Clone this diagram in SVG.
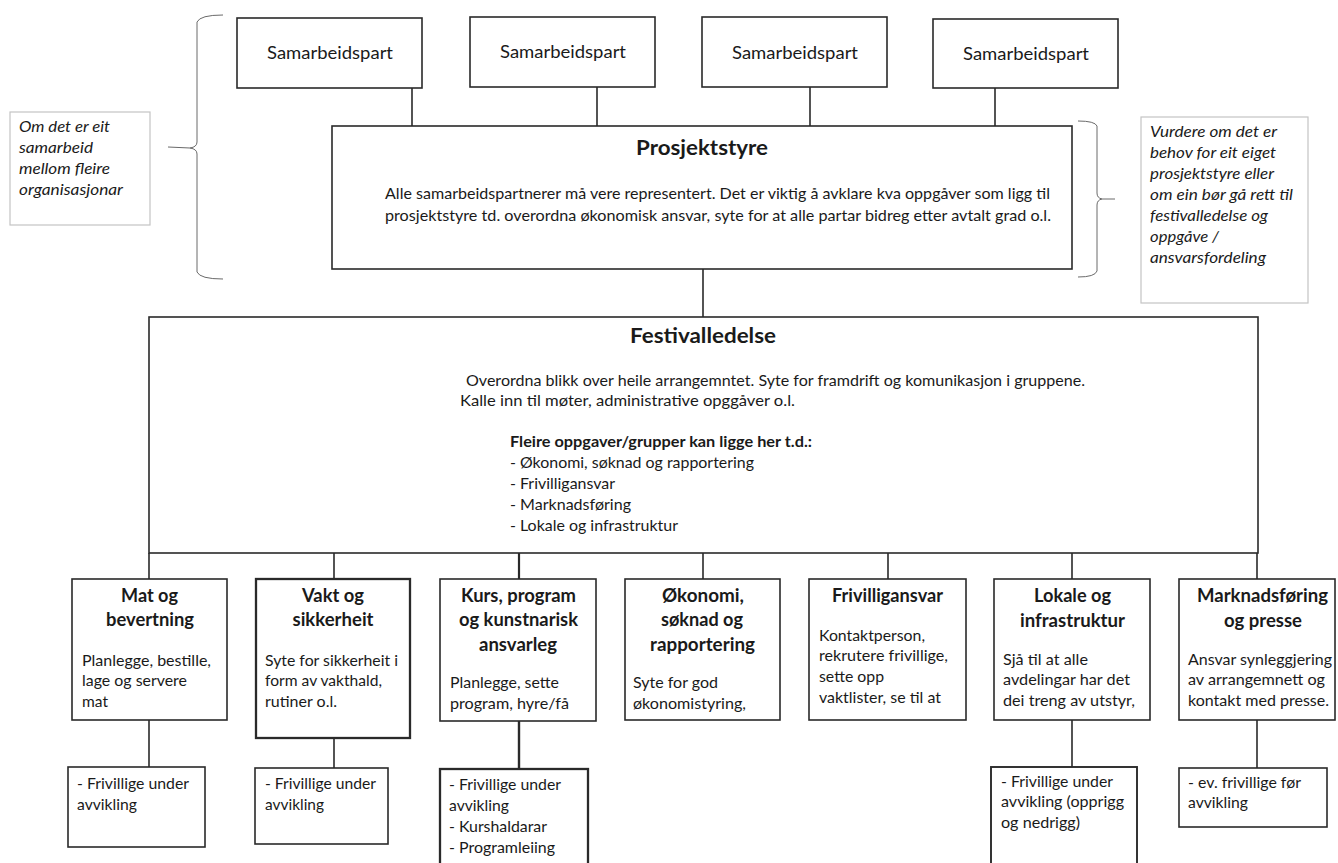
<svg xmlns="http://www.w3.org/2000/svg" width="1338" height="863" viewBox="0 0 1338 863">
<style>
  text { font-family: Lato, "Liberation Sans", sans-serif; fill: #1a1a1a; }
  .box { fill: #fff; stroke: #2a2a2a; stroke-width: 1.6; }
  .heavy { stroke-width: 2.3; }
  .note { fill: #fff; stroke: #c4c4c4; stroke-width: 1.2; }
  .line { stroke: #2a2a2a; stroke-width: 1.6; fill: none; }
  .brace { stroke: #6a6a6a; stroke-width: 1; fill: none; }
  .sp { font-size: 18px; text-anchor: middle; }
  .h1 { font-size: 21px; font-weight: bold; text-anchor: middle; }
  .body { font-size: 16px; }
  .bold { font-weight: bold; }
  .t { font-size: 18px; font-weight: bold; text-anchor: middle; }
  .it { font-size: 16px; font-style: italic; }
</style>

<g id="connectors">
  <line class="line" x1="412" y1="88" x2="412" y2="126"/>
  <line class="line" x1="597" y1="87" x2="597" y2="126"/>
  <line class="line" x1="810" y1="87" x2="810" y2="126"/>
  <line class="line" x1="995" y1="88" x2="995" y2="126"/>
  <line class="line" x1="703" y1="269" x2="703" y2="317"/>
  <line class="line" x1="149" y1="553" x2="149" y2="579"/>
  <line class="line" x1="334" y1="553" x2="334" y2="579"/>
  <line class="line" x1="519" y1="553" x2="519" y2="579" style="stroke-width:2.2"/>
  <line class="line" x1="703" y1="553" x2="703" y2="579"/>
  <line class="line" x1="888" y1="553" x2="888" y2="579"/>
  <line class="line" x1="1072" y1="553" x2="1072" y2="579"/>
  <line class="line" x1="1257" y1="553" x2="1257" y2="579"/>
  <line class="line" x1="149" y1="720" x2="149" y2="767"/>
  <line class="line" x1="334" y1="738" x2="334" y2="768"/>
  <line class="line" x1="519" y1="721" x2="519" y2="769" style="stroke-width:2.4"/>
  <line class="line" x1="1072" y1="720" x2="1072" y2="767"/>
  <line class="line" x1="1257" y1="720" x2="1257" y2="768"/>
  <path class="brace" d="M223,15 Q200,15 197,22 L197,142 Q197,147 190,148 L168,147 M190,148 Q197,149 197,154 L197,272 Q200,279 223,279"/>
  <path class="brace" d="M1078,121 Q1095,121 1097,126 L1097,193 Q1097,198 1102,199 L1115,199 M1102,199 Q1097,200 1097,205 L1097,271 Q1095,277 1078,277"/>
</g>

<g id="note-left">
  <rect class="note" x="10" y="112" width="140" height="113"/>
  <text class="it" x="19" y="132" textLength="91" lengthAdjust="spacingAndGlyphs">Om det er eit</text>
  <text class="it" x="19" y="153" textLength="74" lengthAdjust="spacingAndGlyphs">samarbeid</text>
  <text class="it" x="19" y="174" textLength="91" lengthAdjust="spacingAndGlyphs">mellom fleire</text>
  <text class="it" x="19" y="195" textLength="104" lengthAdjust="spacingAndGlyphs">organisasjonar</text>
</g>

<g id="note-right">
  <rect class="note" x="1141" y="117" width="167" height="186"/>
  <text class="it" x="1150" y="137" textLength="127" lengthAdjust="spacingAndGlyphs">Vurdere om det er</text>
  <text class="it" x="1150" y="158" textLength="126" lengthAdjust="spacingAndGlyphs">behov for eit eiget</text>
  <text class="it" x="1150" y="179" textLength="124" lengthAdjust="spacingAndGlyphs">prosjektstyre eller</text>
  <text class="it" x="1150" y="200" textLength="143" lengthAdjust="spacingAndGlyphs">om ein bør gå rett til</text>
  <text class="it" x="1150" y="221" textLength="118" lengthAdjust="spacingAndGlyphs">festivalledelse og</text>
  <text class="it" x="1150" y="242" textLength="69" lengthAdjust="spacingAndGlyphs">oppgåve /</text>
  <text class="it" x="1150" y="263" textLength="116" lengthAdjust="spacingAndGlyphs">ansvarsfordeling</text>
</g>

<g id="samarbeidspart-1">
  <rect class="box" x="237" y="18" width="185" height="70"/>
  <text class="sp" x="330" y="59" textLength="126" lengthAdjust="spacingAndGlyphs">Samarbeidspart</text>
</g>
<g id="samarbeidspart-2">
  <rect class="box" x="470" y="17" width="185" height="70"/>
  <text class="sp" x="563" y="58" textLength="126" lengthAdjust="spacingAndGlyphs">Samarbeidspart</text>
</g>
<g id="samarbeidspart-3">
  <rect class="box" x="702" y="17" width="185" height="70"/>
  <text class="sp" x="795" y="59" textLength="126" lengthAdjust="spacingAndGlyphs">Samarbeidspart</text>
</g>
<g id="samarbeidspart-4">
  <rect class="box" x="933" y="19" width="185" height="69"/>
  <text class="sp" x="1026" y="60" textLength="126" lengthAdjust="spacingAndGlyphs">Samarbeidspart</text>
</g>

<g id="prosjektstyre">
  <rect class="box" x="332" y="126" width="740" height="143"/>
  <text class="h1" x="702" y="155" textLength="132" lengthAdjust="spacingAndGlyphs">Prosjektstyre</text>
  <text class="body" x="385" y="199" textLength="665" lengthAdjust="spacingAndGlyphs">Alle samarbeidspartnerer må vere representert. Det er viktig å avklare kva oppgåver som ligg til</text>
  <text class="body" x="385" y="221" textLength="666" lengthAdjust="spacingAndGlyphs">prosjektstyre td. overordna økonomisk ansvar, syte for at alle partar bidreg etter avtalt grad o.l.</text>
</g>

<g id="festivalledelse">
  <rect class="box" x="149" y="317" width="1109" height="236"/>
  <text class="h1" x="703" y="343" textLength="146" lengthAdjust="spacingAndGlyphs">Festivalledelse</text>
  <text class="body" x="466" y="386" textLength="619" lengthAdjust="spacingAndGlyphs">Overordna blikk over heile arrangemntet. Syte for framdrift og komunikasjon i gruppene.</text>
  <text class="body" x="460" y="406" textLength="335" lengthAdjust="spacingAndGlyphs">Kalle inn til møter, administrative opggåver o.l.</text>
  <text class="body bold" x="510" y="447" textLength="302" lengthAdjust="spacingAndGlyphs">Fleire oppgaver/grupper kan ligge her t.d.:</text>
  <text class="body" x="510" y="468" textLength="244" lengthAdjust="spacingAndGlyphs">- Økonomi, søknad og rapportering</text>
  <text class="body" x="510" y="489" textLength="105" lengthAdjust="spacingAndGlyphs">- Frivilligansvar</text>
  <text class="body" x="510" y="510" textLength="121" lengthAdjust="spacingAndGlyphs">- Marknadsføring</text>
  <text class="body" x="510" y="531" textLength="168" lengthAdjust="spacingAndGlyphs">- Lokale og infrastruktur</text>
</g>

<g id="mat">
  <rect class="box" x="72" y="579" width="155" height="141"/>
  <text class="t" x="149.5" y="602" textLength="57" lengthAdjust="spacingAndGlyphs">Mat og</text>
  <text class="t" x="150" y="626" textLength="88" lengthAdjust="spacingAndGlyphs">bevertning</text>
  <text class="body" x="82" y="666" textLength="129" lengthAdjust="spacingAndGlyphs">Planlegge, bestille,</text>
  <text class="body" x="82" y="686" textLength="105" lengthAdjust="spacingAndGlyphs">lage og servere</text>
  <text class="body" x="82" y="707" textLength="26" lengthAdjust="spacingAndGlyphs">mat</text>
</g>
<g id="mat-sub">
  <rect class="box" x="68" y="767" width="137" height="80"/>
  <text class="body" x="77" y="789" textLength="112" lengthAdjust="spacingAndGlyphs">- Frivillige under</text>
  <text class="body" x="77" y="810" textLength="60" lengthAdjust="spacingAndGlyphs">avvikling</text>
</g>

<g id="vakt">
  <rect class="box heavy" x="256" y="579" width="154" height="159"/>
  <text class="t" x="333" y="602" textLength="62" lengthAdjust="spacingAndGlyphs">Vakt og</text>
  <text class="t" x="333" y="626" textLength="81" lengthAdjust="spacingAndGlyphs">sikkerheit</text>
  <text class="body" x="265" y="666" textLength="133" lengthAdjust="spacingAndGlyphs">Syte for sikkerheit i</text>
  <text class="body" x="265" y="686" textLength="117" lengthAdjust="spacingAndGlyphs">form av vakthald,</text>
  <text class="body" x="265" y="707" textLength="72" lengthAdjust="spacingAndGlyphs">rutiner o.l.</text>
</g>
<g id="vakt-sub">
  <rect class="box" x="255" y="768" width="133" height="76"/>
  <text class="body" x="265" y="789" textLength="111" lengthAdjust="spacingAndGlyphs">- Frivillige under</text>
  <text class="body" x="265" y="810" textLength="59" lengthAdjust="spacingAndGlyphs">avvikling</text>
</g>

<g id="kurs">
  <rect class="box" x="440" y="579" width="156" height="142"/>
  <text class="t" x="518.5" y="602" textLength="115" lengthAdjust="spacingAndGlyphs">Kurs, program</text>
  <text class="t" x="518.5" y="626" textLength="119" lengthAdjust="spacingAndGlyphs">og kunstnarisk</text>
  <text class="t" x="518" y="651" textLength="78" lengthAdjust="spacingAndGlyphs">ansvarleg</text>
  <text class="body" x="450" y="688" textLength="109" lengthAdjust="spacingAndGlyphs">Planlegge, sette</text>
  <text class="body" x="450" y="709" textLength="119" lengthAdjust="spacingAndGlyphs">program, hyre/få</text>
</g>
<g id="kurs-sub">
  <rect class="box heavy" x="440" y="769" width="148" height="100"/>
  <text class="body" x="449" y="790" textLength="112" lengthAdjust="spacingAndGlyphs">- Frivillige under</text>
  <text class="body" x="449" y="811" textLength="60" lengthAdjust="spacingAndGlyphs">avvikling</text>
  <text class="body" x="449" y="832" textLength="98" lengthAdjust="spacingAndGlyphs">- Kurshaldarar</text>
  <text class="body" x="449" y="853" textLength="106" lengthAdjust="spacingAndGlyphs">- Programleiing</text>
</g>

<g id="okonomi">
  <rect class="box" x="625" y="579" width="155" height="141"/>
  <text class="t" x="703" y="602" textLength="82" lengthAdjust="spacingAndGlyphs">Økonomi,</text>
  <text class="t" x="702" y="626" textLength="82" lengthAdjust="spacingAndGlyphs">søknad og</text>
  <text class="t" x="702.5" y="651" textLength="105" lengthAdjust="spacingAndGlyphs">rapportering</text>
  <text class="body" x="633" y="688" textLength="85" lengthAdjust="spacingAndGlyphs">Syte for god</text>
  <text class="body" x="633" y="709" textLength="113" lengthAdjust="spacingAndGlyphs">økonomistyring,</text>
</g>

<g id="frivilligansvar">
  <rect class="box" x="809" y="579" width="157" height="141"/>
  <text class="t" x="887.5" y="602" textLength="111" lengthAdjust="spacingAndGlyphs">Frivilligansvar</text>
  <text class="body" x="819" y="641" textLength="106" lengthAdjust="spacingAndGlyphs">Kontaktperson,</text>
  <text class="body" x="819" y="661" textLength="129" lengthAdjust="spacingAndGlyphs">rekrutere frivillige,</text>
  <text class="body" x="819" y="682" textLength="65" lengthAdjust="spacingAndGlyphs">sette opp</text>
  <text class="body" x="819" y="703" textLength="122" lengthAdjust="spacingAndGlyphs">vaktlister, se til at</text>
</g>

<g id="lokale">
  <rect class="box" x="994" y="579" width="156" height="141"/>
  <text class="t" x="1072.5" y="602" textLength="77" lengthAdjust="spacingAndGlyphs">Lokale og</text>
  <text class="t" x="1072.5" y="627" textLength="105" lengthAdjust="spacingAndGlyphs">infrastruktur</text>
  <text class="body" x="1003" y="665" textLength="85" lengthAdjust="spacingAndGlyphs">Sjå til at alle</text>
  <text class="body" x="1003" y="685" textLength="127" lengthAdjust="spacingAndGlyphs">avdelingar har det</text>
  <text class="body" x="1003" y="706" textLength="132" lengthAdjust="spacingAndGlyphs">dei treng av utstyr,</text>
</g>
<g id="lokale-sub">
  <rect class="box" x="991" y="767" width="146" height="102" style="stroke-width:1.9"/>
  <text class="body" x="1001" y="787" textLength="112" lengthAdjust="spacingAndGlyphs">- Frivillige under</text>
  <text class="body" x="1001" y="807" textLength="123" lengthAdjust="spacingAndGlyphs">avvikling (opprigg</text>
  <text class="body" x="1001" y="828" textLength="79" lengthAdjust="spacingAndGlyphs">og nedrigg)</text>
</g>

<g id="marknadsforing">
  <rect class="box" x="1179" y="579" width="156" height="141"/>
  <text class="t" x="1262.5" y="602" textLength="131" lengthAdjust="spacingAndGlyphs">Marknadsføring</text>
  <text class="t" x="1263" y="627" textLength="78" lengthAdjust="spacingAndGlyphs">og presse</text>
  <text class="body" x="1188" y="665" textLength="144" lengthAdjust="spacingAndGlyphs">Ansvar synleggjering</text>
  <text class="body" x="1188" y="685" textLength="137" lengthAdjust="spacingAndGlyphs">av arrangemnett og</text>
  <text class="body" x="1188" y="706" textLength="141" lengthAdjust="spacingAndGlyphs">kontakt med presse.</text>
</g>
<g id="marknadsforing-sub">
  <rect class="box" x="1179" y="768" width="148" height="59"/>
  <text class="body" x="1188" y="788" textLength="113" lengthAdjust="spacingAndGlyphs">- ev. frivillige før</text>
  <text class="body" x="1188" y="808" textLength="60" lengthAdjust="spacingAndGlyphs">avvikling</text>
</g>
</svg>
